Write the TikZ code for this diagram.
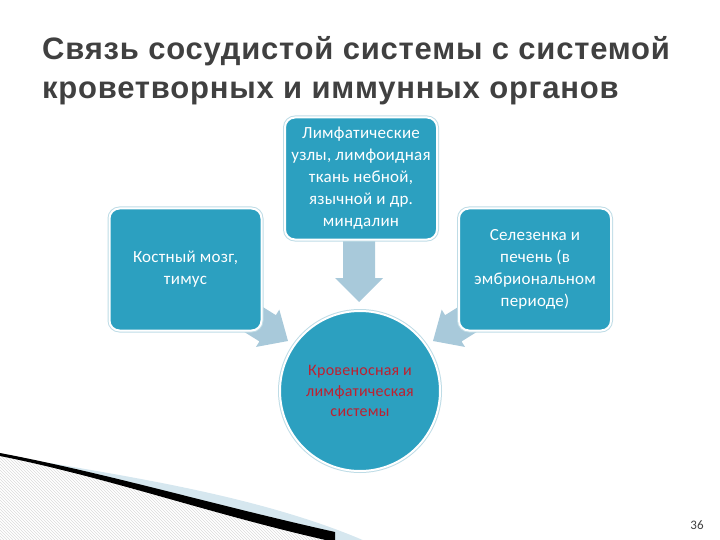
\documentclass[tikz,border=0pt]{standalone}
\usepackage{fontspec}
\newfontfamily\titlefont[LetterSpace=2.5]{Liberation Sans}
\newfontfamily\boxfont[LetterSpace=1.5]{Carlito}
\newfontfamily\pgfont{Carlito}
\definecolor{boxblue}{RGB}{44,160,192}
\definecolor{boxedge}{RGB}{190,220,230}
\definecolor{arrowblue}{RGB}{168,201,218}
\definecolor{titlegray}{RGB}{64,64,64}
\definecolor{circred}{RGB}{190,32,48}
\definecolor{wedgeblue}{RGB}{214,231,239}
\definecolor{hatchgray}{RGB}{218,218,218}
\tikzset{
  bluebox/.style={rounded corners=10pt, fill=boxblue, draw=white, line width=2pt,
    preaction={draw=boxedge, line width=4pt},
    minimum width=152pt, minimum height=122pt, inner sep=4pt,
    align=center, text=white, font=\boxfont\fontsize{17}{22}\selectfont},
  bluecirc/.style={circle, fill=boxblue, draw=white, line width=2pt,
    preaction={draw=boxedge, line width=4pt},
    minimum size=160pt, inner sep=0pt,
    align=center, text=circred, font=\boxfont\fontsize{16}{20.5}\selectfont},
  blockarrow/.style={fill=arrowblue},
  titletext/.style={anchor=base west, inner sep=0pt, text=titlegray,
    font=\titlefont\bfseries\fontsize{31}{36}\selectfont},
}
\begin{document}
\begin{tikzpicture}[x=1pt,y=-1pt]
\useasboundingbox (0,0) rectangle (720,540);
% bottom-left decoration
\begin{scope}
  \clip (0,455) .. controls (110,478) and (210,514) .. (330,541) -- (0,541) -- cycle;
  \foreach \i in {-120,-117,...,340} {
    \draw[hatchgray, line width=0.5pt] (\i,440) -- (\i+110,550);
  }
\end{scope}
\fill[wedgeblue] (50,463) .. controls (150,480) and (270,500) .. (365,541) -- (330,541)
  .. controls (220,512) and (120,478) .. (50,464) -- cycle;
\fill[black] (0,453) .. controls (110,474) and (210,504) .. (335,532) -- (335,541) -- (330,541)
  .. controls (210,514) and (110,478) .. (0,456) -- cycle;
% title
\node[titletext] (t1) at (42,60) {Связь сосудистой системы с системой};
\node[titletext] (t2) at (42,99) {кроветворных и иммунных органов};
% block arrows
\begin{scope}[shift={(288,341)}, rotate=-32]
  \fill[blockarrow] (0,0) -- (-24,-22) -- (-24,-15.5) -- (-85,-15.5) -- (-85,15.5) -- (-24,15.5) -- (-24,22) -- cycle;
\end{scope}
\begin{scope}[shift={(433,341)}, rotate=-148]
  \fill[blockarrow] (0,0) -- (-24,-22) -- (-24,-15.5) -- (-85,-15.5) -- (-85,15.5) -- (-24,15.5) -- (-24,22) -- cycle;
\end{scope}
\begin{scope}[shift={(359,302)}, rotate=-90]
  \fill[blockarrow] (0,0) -- (-24,-24) -- (-24,-16) -- (-62,-16) -- (-62,16) -- (-24,16) -- (-24,24) -- cycle;
\end{scope}
% boxes
\node[bluebox] (top) at (361,178.5) {Лимфатические\\узлы, лимфоидная\\ткань небной,\\язычной и др.\\миндалин};
\node[bluebox] (left) at (185.5,269.5) {Костный мозг,\\тимус};
\node[bluebox] (right) at (535,269.5) {Селезенка и\\печень (в\\эмбриональном\\периоде)};
\node[bluecirc] (c) at (360,391) {Кровеносная и\\лимфатическая\\системы};
% page number
\node[anchor=base, text=titlegray, font=\pgfont\fontsize{13}{15}\selectfont, inner sep=0pt] (pg) at (697,529) {36};
\end{tikzpicture}
\end{document}
